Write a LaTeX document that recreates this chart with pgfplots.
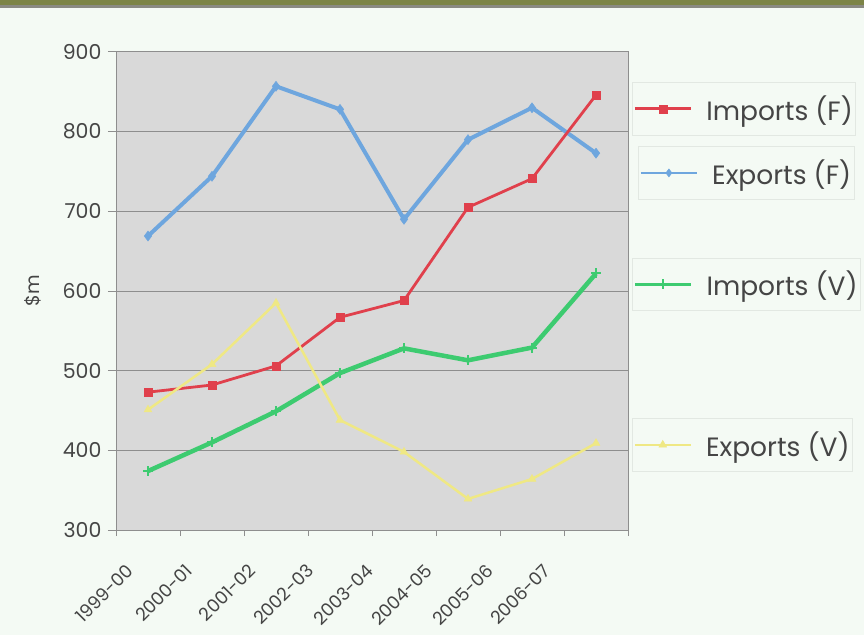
\documentclass[border=0pt]{standalone}
\usepackage{pgfplots}
\pgfplotsset{compat=1.18}
\usepackage{pgfplotstable}
\usepackage{fontspec}
\setmainfont{Poppins}
\definecolor{bg}{HTML}{F4FAF4}
\definecolor{olivebar}{HTML}{7C8446}
\definecolor{stripe}{HTML}{8A8A82}
\definecolor{plotbg}{HTML}{D9D9D9}
\definecolor{gridgray}{HTML}{8E8E8E}
\definecolor{textgray}{HTML}{454545}
\definecolor{legborder}{HTML}{E2E8E2}
\definecolor{cred}{HTML}{E0404C}
\definecolor{cblue}{HTML}{6EA6DE}
\definecolor{cgreen}{HTML}{3DCB70}
\definecolor{cyellow}{HTML}{EFE884}

\pgfplotstableread{
x impF expF impV expV
0 473 669 374 451
1 482 744 410 508
2 506 857 449 585
3 567 828 497 438
4 588 690 528 398
5 705 790 513 339
6 741 830 529 364
7 846 773 622 409
}\datatable

\pgfplotsset{
  impFstyle/.style={cred, line width=2.8pt, mark=square*, mark size=4pt, mark options={solid, fill=cred, line width=0.5pt}},
  expFstyle/.style={cblue, line width=4pt, mark=diamond*, mark size=5pt, mark options={solid, fill=cblue, line width=0.5pt}},
  impVstyle/.style={cgreen, line width=4.5pt, mark=+, mark size=5pt, mark options={solid, line width=2pt}},
  expVstyle/.style={cyellow, line width=2.5pt, mark=triangle*, mark size=4.5pt, mark options={solid, fill=cyellow, line width=0.5pt}},
  legax/.style={
    at={(116pt,105pt)}, anchor=south west, scale only axis,
    width=512pt, height=478pt, hide axis,
    xmin=0, xmax=1, ymin=0, ymax=1,
    legend style={draw=legborder, fill=bg, text=textgray,
      font=\fontsize{26.5}{31}\selectfont, anchor=west,
      inner xsep=1pt, inner ysep=11pt, line width=0.8pt,
      /tikz/every odd column/.append style={column sep=12pt}},
    legend cell align=left,
    legend image code/.code={%
      \draw[mark repeat=2, mark phase=2, ##1]
        plot coordinates {(0pt,0pt) (28pt,0pt) (56pt,0pt)};},
  },
}

\begin{document}
\begin{tikzpicture}
\fill[bg] (0pt,0pt) rectangle (864pt,635pt);
\fill[olivebar] (0pt,630pt) rectangle (864pt,635pt);
\fill[stripe] (0pt,627pt) rectangle (864pt,630pt);
\begin{axis}[
  at={(116pt,105pt)}, anchor=south west, scale only axis,
  width=512pt, height=478pt,
  xmin=-0.5, xmax=7.5, ymin=300, ymax=900,
  axis background/.style={fill=plotbg},
  axis line style={gridgray, line width=1pt},
  tick align=outside,
  tick pos=left,
  xtick={-0.23,0.69,1.67,2.58,3.52,4.44,5.39,6.28},
  xticklabels={1999-00,2000-01,2001-02,2002-03,2003-04,2004-05,2005-06,2006-07},
  minor xtick={-0.5,0.5,...,7.5},
  major x tick style={draw=none},
  minor x tick style={draw=gridgray, line width=1pt},
  minor tick length=6pt,
  major tick length=8pt,
  ytick={300,400,...,900},
  ytick style={draw=gridgray, line width=1pt},
  ymajorgrids,
  grid style={gridgray, line width=1pt},
  /pgf/number format/assume math mode=true,
  yticklabel style={text=textgray, font=\fontsize{20.5}{23}\selectfont, xshift=-3pt},
  xticklabel style={text=textgray, font=\fontsize{18}{20}\selectfont,
    rotate=45, anchor=north east, inner sep=0pt, xshift=-23pt, yshift=-12pt},
  ylabel={\$m},
  every axis y label/.style={at={(axis description cs:-0.162,0.5)},
    rotate=90, anchor=center, text=textgray, font=\fontsize{19}{21}\selectfont},
  clip=false,
]
\addplot[expFstyle] table[x=x, y=expF] {\datatable};
\addplot[impFstyle] table[x=x, y=impF] {\datatable};
\addplot[impVstyle] table[x=x, y=impV] {\datatable};
\addplot[expVstyle] table[x=x, y=expV] {\datatable};
\end{axis}

\begin{axis}[legax, legend style={at={(1.008,0.881)}}]
\addlegendimage{impFstyle}
\addlegendentry{Imports (F)}
\end{axis}
\begin{axis}[legax, legend style={at={(1.02,0.747)}}]
\addlegendimage{expFstyle, line width=2.5pt, mark size=4pt}
\addlegendentry{Exports (F)}
\end{axis}
\begin{axis}[legax, legend style={at={(1.008,0.514)}}]
\addlegendimage{impVstyle, line width=3pt}
\addlegendentry{Imports (V)}
\end{axis}
\begin{axis}[legax, legend style={at={(1.008,0.178)}}]
\addlegendimage{expVstyle}
\addlegendentry{Exports (V)}
\end{axis}
\pgfresetboundingbox
\useasboundingbox (0pt,0pt) rectangle (864pt,635pt);
\end{tikzpicture}
\end{document}
